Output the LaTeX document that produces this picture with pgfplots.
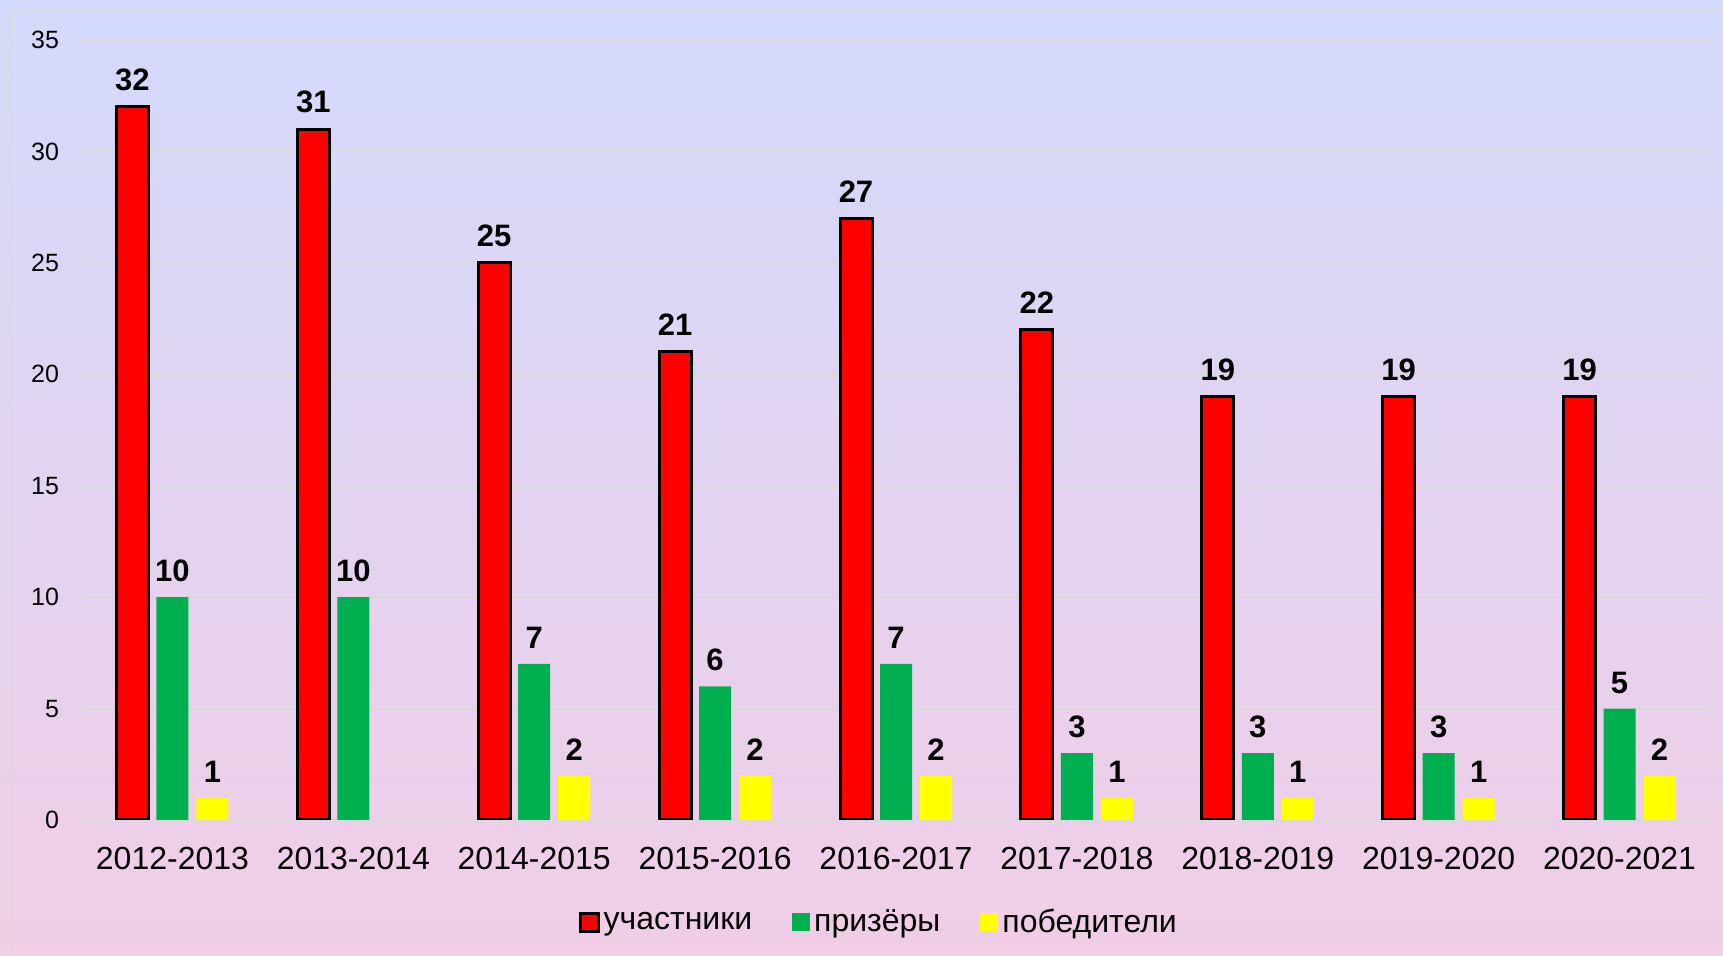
\documentclass[border=0pt]{standalone}
\usepackage{pgfplots}
\pgfplotsset{compat=1.18}
\usepackage{fontspec}
\setmainfont{Liberation Sans}
\definecolor{cRed}{RGB}{255,0,0}
\definecolor{cGreen}{RGB}{0,176,80}
\definecolor{cYellow}{RGB}{255,255,0}
\definecolor{bgTop}{RGB}{211,218,251}
\definecolor{bgBot}{RGB}{241,205,230}
\definecolor{gridc}{RGB}{217,217,217}
\begin{document}
\begin{tikzpicture}
\shade[top color=bgTop, bottom color=bgBot] (0,0) rectangle (861.5pt,478pt);
\draw[gridc, line width=1pt] (5.5pt,0) -- (5.5pt,472.5pt) -- (861.5pt,472.5pt);
\begin{axis}[
  at={(41pt,68pt)}, anchor=south west, scale only axis,
  width=814pt, height=390pt,
  ybar=4pt, bar width=16pt,
  xmin=-0.5, xmax=8.5, ymin=0, ymax=35,
  xtick={0,1,2,3,4,5,6,7,8},
  xticklabels={2012-2013,2013-2014,2014-2015,2015-2016,2016-2017,2017-2018,2018-2019,2019-2020,2020-2021},
  ytick={0,5,10,15,20,25,30,35},
  ymajorgrids, grid style={gridc, line width=1pt},
  axis line style={draw=none},
  major tick length=0pt,
  /pgf/number format/assume math mode=true,
  yticklabel style={font=\fontsize{12.5}{12.5}\selectfont, xshift=-8pt},
  xticklabel style={font=\fontsize{16}{16}\selectfont, yshift=-10pt},
  nodes near coords,
  nodes near coords style={font=\bfseries\fontsize{15.5}{15.5}\selectfont, yshift=4pt, text=black},
  legend style={at={(0.49,-0.131)}, anchor=center, draw=none, fill=none,
    font=\fontsize{16}{16}\selectfont,
    /tikz/every even column/.append style={column sep=18pt}},
  legend columns=-1,
  legend image code/.code={\path[#1] (0pt,-4.5pt) rectangle (9pt,4.5pt);},
]
\addplot[fill=cRed, draw=black, line width=1.5pt] coordinates {(0,32) (1,31) (2,25) (3,21) (4,27) (5,22) (6,19) (7,19) (8,19)};
\addlegendentry{участники}
\addplot[fill=cGreen, draw=none] coordinates {(0,10) (1,10) (2,7) (3,6) (4,7) (5,3) (6,3) (7,3) (8,5)};
\addlegendentry{призёры}
\addplot[fill=cYellow, draw=none] coordinates {(0,1) (2,2) (3,2) (4,2) (5,1) (6,1) (7,1) (8,2)};
\addlegendentry{победители}
\end{axis}
\pgfresetboundingbox
\path (0,0) rectangle (861.5pt,478pt);
\end{tikzpicture}
\end{document}
